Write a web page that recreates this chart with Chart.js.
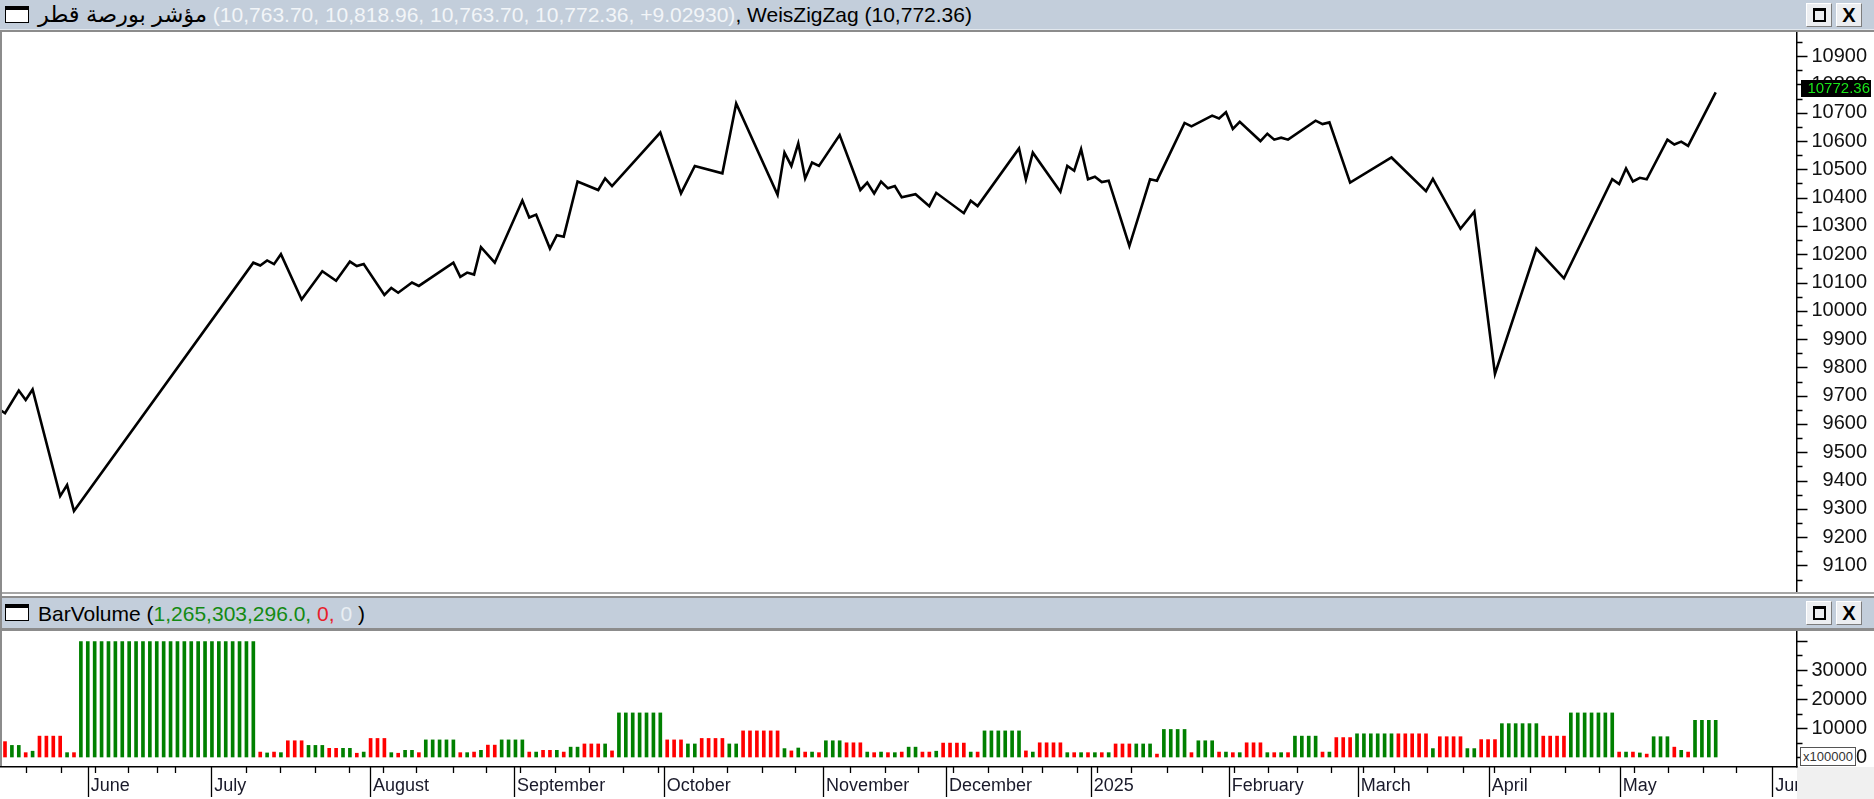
<!DOCTYPE html>
<html><head><meta charset="utf-8">
<script src="https://cdn.jsdelivr.net/npm/chart.js@4.4.1/dist/chart.umd.min.js"></script>
<style>
html,body{margin:0;padding:0;background:#fff;}
body{width:1874px;height:799px;position:relative;overflow:hidden;font-family:"Liberation Sans","DejaVu Sans",Arial,sans-serif;}
.abs{position:absolute;}
.hdr{position:absolute;left:0;width:1874px;background:#c3cedb;}
.htxt{position:absolute;white-space:nowrap;font-size:21px;line-height:29px;}
.icon{position:absolute;width:24px;height:17px;border:1.5px solid #000;border-top-width:4px;background:#fff;box-sizing:border-box;}
.btn{position:absolute;width:26px;height:24px;background:#eceef1;border-top:1px solid #fff;border-left:1px solid #fff;border-right:1px solid #7d7d7d;border-bottom:1px solid #7d7d7d;box-sizing:border-box;}
.sq{position:absolute;left:6px;top:4px;width:13px;height:14px;border:2px solid #000;border-top-width:3px;box-sizing:border-box;}
.xx{position:absolute;left:0;top:0;width:24px;text-align:center;font-weight:bold;font-size:20px;line-height:23px;color:#000;}
canvas{position:absolute;left:0;}
</style></head>
<body>
<div class="hdr" style="top:0;height:29px;"></div>
<div class="abs" style="top:29px;left:0;width:1874px;height:1px;background:#e2e8ee"></div>
<div class="abs" style="top:30px;left:0;width:1874px;height:2px;background:#8c8c8c"></div>
<div class="icon" style="left:5px;top:6px"></div>
<div class="htxt" style="left:38px;top:0"><bdi dir="rtl" style="color:#000;font-size:22.5px">مؤشر بورصة قطر</bdi><span style="color:#f2f5f8"> (10,763.70, 10,818.96, 10,763.70, 10,772.36, +9.02930)</span><span style="color:#000">, WeisZigZag (10,772.36)</span></div>
<div class="btn" style="left:1806px;top:3px"><div class="sq"></div></div>
<div class="btn" style="left:1836px;top:3px"><div class="xx">X</div></div>

<canvas id="main" width="1874" height="560" style="top:32px"></canvas>

<div class="abs" style="top:592px;left:0;width:1874px;height:2px;background:#a6a6a6"></div>
<div class="abs" style="top:596px;left:0;width:1874px;height:2px;background:#8c8c8c"></div>
<div class="hdr" style="top:598px;height:30px;"></div>
<div class="abs" style="top:628px;left:0;width:1874px;height:3px;background:#8c8c8c"></div>
<div class="icon" style="left:5px;top:604px"></div>
<div class="htxt" style="left:38px;top:599px"><span style="color:#000">BarVolume (</span><span style="color:#138a13">1,265,303,296.0,</span><span style="color:#e8202a"> 0,</span><span style="color:#e9eef3"> 0</span><span style="color:#000"> )</span></div>
<div class="btn" style="left:1806px;top:601px"><div class="sq"></div></div>
<div class="btn" style="left:1836px;top:601px"><div class="xx">X</div></div>

<canvas id="vol" width="1874" height="168" style="top:631px"></canvas>
<div class="abs" style="left:1800px;top:747px;width:56px;height:19px;border:1px solid #555;box-sizing:border-box;background:#fff;font-size:13px;line-height:17px;color:#333;text-align:center;">x100000</div>
<div class="abs" style="left:0;top:32px;width:2px;height:734px;background:#8c8c8c"></div>

<script>
// ---------------- DATA ----------------
// Weis waves: bars per wave, wave volume (x100000), price at the wave pivot
const startPivot = { x: -1, y: 9655 };
const waveLen = [1,2,1,1,4,1,1,26,1,1,1,1,3,3,2,2,1,1,3,1,1,2,1,5,1,1,1,1,2,4,1,1,2,1,1,2,3,1,1,7,
  3,2,4,2,6,1,1,1,1,1,1,3,3,1,1,1,1,1,1,2,2,1,4,1,1,6,1,1,4,1,1,1,1,1,1,1,3,3,1,4,1,3,1,1,1,1,3,1,1,1,1,
  4,1,1,3,6,5,1,4,2,3,6,4,7,1,1,1,1,1,3,1,1,1,4];
const waveVol = [5300,4000,1500,2000,7200,1500,1500,39800,1700,1400,1700,1500,5600,4000,3000,3000,1300,1700,6400,1500,
  1300,2300,1500,5900,1500,1500,1700,2300,4100,5900,1700,1700,2300,2300,1700,3400,4500,4500,2100,15200,
  5900,4500,6400,4500,9000,2900,2100,3100,1700,1700,1500,5600,4900,1700,1500,1700,1500,1500,1700,3400,
  1700,2000,4800,1700,1700,9000,2100,1700,4900,1500,1500,1500,1500,1500,1500,1500,4500,4500,1000,9500,
  1500,5600,1700,1700,1500,1500,4900,1500,1500,1500,1500,7200,1700,1700,6700,8000,8000,2900,7000,2900,
  6000,11500,7200,15200,1700,1700,1700,1400,1000,7000,3400,2300,1700,12653];
const wavePrice = [9638,9718,9685,9722,9345,9384,9292,10170,10160,10178,10165,10200,10040,10140,10106,10174,10158,10165,10056,10081,
  10064,10100,10088,10170,10120,10135,10128,10225,10170,10390,10330,10340,10220,10267,10262,10457,10427,10468,10441,10630,
  10415,10512,10486,10733,10410,10559,10512,10592,10468,10524,10512,10621,10427,10453,10415,10457,10433,10441,10401,10412,
  10370,10417,10345,10389,10370,10574,10464,10559,10421,10512,10495,10571,10465,10474,10455,10460,10229,10465,10460,10664,
  10652,10690,10680,10702,10643,10668,10600,10626,10605,10612,10605,10672,10660,10666,10453,10542,10423,10466,10290,10350,
  9777,10220,10115,10465,10448,10503,10457,10470,10465,10605,10588,10598,10583,10772.36];

const monthLabels = ['June','July','August','September','October','November','December','2025','February','March','April','May','June'];
const monthTickIdx = [12,29.9,52.9,73.8,95.5,118.6,136.4,157.4,177.4,196.1,215.1,234.1,256.2];
const weekTickIdx = [3.1,8.1,13,17.9,22.1,24.6,34.9,39.9,44.9,49.9,54.8,59.6,65,69.7,74.7,79.7,84.7,89.6,94.7,99.7,104.6,109.7,
  114.5,122.5,127.6,132.4,137.5,142.5,147.5,150.4,155.4,158.3,163.3,168.4,173.5,178.1,183.1,187.3,192.3,196.8,201.3,206.2,
  211.3,215.9,221.1,226.1,231.1,236.1,241.1,246.1,251];
const priceTicks = [9100,9200,9300,9400,9500,9600,9700,9800,9900,10000,10100,10200,10300,10400,10500,10600,10700,10800,10900];
const volTicks = [0,10000,20000,30000];
const lastPrice = 10772.36;

// ---------------- BUILD ----------------
const RED = '#ff0000', GREEN = '#008000';
const linePts = [startPivot];
const volPts = [], volColors = [];
let idx = startPivot.x, prev = startPivot.y;
waveLen.forEach((n, w) => {
  const c = wavePrice[w] > prev ? GREEN : RED;
  for (let k = 0; k < n; k++) { idx++; volPts.push({ x: idx, y: waveVol[w] }); volColors.push(c); }
  linePts.push({ x: idx, y: wavePrice[w] });
  prev = wavePrice[w];
});

const X_MIN = -0.725, X_MAX = 259.64;
const W = 1874;
Chart.defaults.font.family = '"Liberation Sans", Arial, sans-serif';

function noPadV(s) { s.width = 71; s.paddingTop = 0; s.paddingBottom = 0; }

const priceAxis = {
  id: 'priceAxis',
  afterDraw(chart) {
    const ctx = chart.ctx, a = chart.chartArea, y = chart.scales.y;
    ctx.save();
    ctx.strokeStyle = '#000'; ctx.lineWidth = 1.5;
    ctx.beginPath(); ctx.moveTo(a.right + 0.75, 0); ctx.lineTo(a.right + 0.75, chart.height); ctx.stroke();
    ctx.lineWidth = 1.3; ctx.beginPath();
    for (let v = Math.ceil(y.min / 50) * 50; v <= y.max; v += 50) {
      const p = Math.round(y.getPixelForValue(v)) + 0.5;
      const len = (v % 100 === 0) ? 10 : 5;
      ctx.moveTo(a.right, p); ctx.lineTo(a.right + 1.5 + len, p);
    }
    ctx.stroke();
    const py = y.getPixelForValue(lastPrice);
    ctx.fillStyle = '#000'; ctx.fillRect(a.right + 5, Math.round(py) - 12, W - a.right - 8, 17);
    ctx.fillStyle = '#19e619'; ctx.font = '15px "Liberation Sans", Arial'; ctx.textAlign = 'right'; ctx.textBaseline = 'middle';
    ctx.fillText(lastPrice.toFixed(2), W - 4, Math.round(py) - 3);
    ctx.restore();
  }
};

new Chart(document.getElementById('main'), {
  type: 'line',
  data: { datasets: [{ data: linePts, borderColor: '#000', borderWidth: 2.6, pointRadius: 0, tension: 0, fill: false }] },
  options: {
    responsive: false, animation: false, events: [],
    layout: { padding: { left: 0, top: 0, bottom: 0, right: 7 } },
    plugins: { legend: { display: false }, tooltip: { enabled: false } },
    scales: {
      x: { type: 'linear', min: X_MIN, max: X_MAX, display: false },
      y: { type: 'linear', position: 'right', min: 9006, max: 10985.5,
        afterFit: noPadV,
        afterBuildTicks: s => { s.ticks = priceTicks.map(v => ({ value: v })); },
        grid: { display: false, drawTicks: false }, border: { display: false },
        ticks: { crossAlign: 'far', padding: 8, color: '#111', font: { size: 20 }, callback: v => String(v) } }
    }
  },
  plugins: [priceAxis]
});

const volAxis = {
  id: 'volAxis',
  afterDraw(chart) {
    const ctx = chart.ctx, a = chart.chartArea, x = chart.scales.x, y = chart.scales.y;
    ctx.save();
    ctx.fillStyle = '#f0f0f0'; ctx.fillRect(a.right + 1, a.bottom + 1, W - a.right, chart.height - a.bottom);
    ctx.strokeStyle = '#000'; ctx.lineWidth = 1.5;
    ctx.beginPath(); ctx.moveTo(0, a.bottom + 0.75); ctx.lineTo(a.right + 1.5, a.bottom + 0.75); ctx.stroke();
    ctx.beginPath(); ctx.moveTo(a.right + 0.75, 0); ctx.lineTo(a.right + 0.75, a.bottom + 1.5); ctx.stroke();
    ctx.lineWidth = 1.3; ctx.beginPath();
    monthTickIdx.forEach(v => { const p = Math.round(x.getPixelForValue(v)) + 0.5; ctx.moveTo(p, a.bottom); ctx.lineTo(p, chart.height - 2); });
    weekTickIdx.forEach(v => { const p = Math.round(x.getPixelForValue(v)) + 0.5; ctx.moveTo(p, a.bottom); ctx.lineTo(p, a.bottom + 7); });
    for (let v = 0; v <= y.max; v += 5000) {
      const p = Math.round(y.getPixelForValue(v)) + 0.5;
      const len = (v % 10000 === 0) ? 10 : 5;
      ctx.moveTo(a.right, p); ctx.lineTo(a.right + 1.5 + len, p);
    }
    ctx.stroke();
    ctx.restore();
  }
};

new Chart(document.getElementById('vol'), {
  type: 'bar',
  data: { datasets: [{ data: volPts, backgroundColor: volColors, barThickness: 3, borderWidth: 0, grouped: false }] },
  options: {
    responsive: false, animation: false, events: [],
    layout: { padding: { left: 0, top: 0, bottom: 0, right: 7 } },
    plugins: { legend: { display: false }, tooltip: { enabled: false } },
    scales: {
      x: { type: 'linear', min: X_MIN, max: X_MAX, offset: false,
        afterFit: s => { s.height = 33; s.paddingLeft = 0; s.paddingRight = 0; },
        afterBuildTicks: s => { s.ticks = monthTickIdx.map(v => ({ value: v })); },
        grid: { display: false, drawTicks: false }, border: { display: false },
        ticks: { autoSkip: false, maxRotation: 0, minRotation: 0, align: 'start', labelOffset: 3, padding: 9,
          color: '#1a1a2a', font: { size: 18 }, callback: (v, i) => monthLabels[i] } },
      y: { type: 'linear', position: 'right', min: -3103, max: 43448,
        afterFit: noPadV,
        afterBuildTicks: s => { s.ticks = volTicks.map(v => ({ value: v })); },
        grid: { display: false, drawTicks: false }, border: { display: false },
        ticks: { crossAlign: 'far', padding: 8, color: '#111', font: { size: 20 }, callback: v => String(v) } }
    }
  },
  plugins: [volAxis]
});
</script>
</body></html>
